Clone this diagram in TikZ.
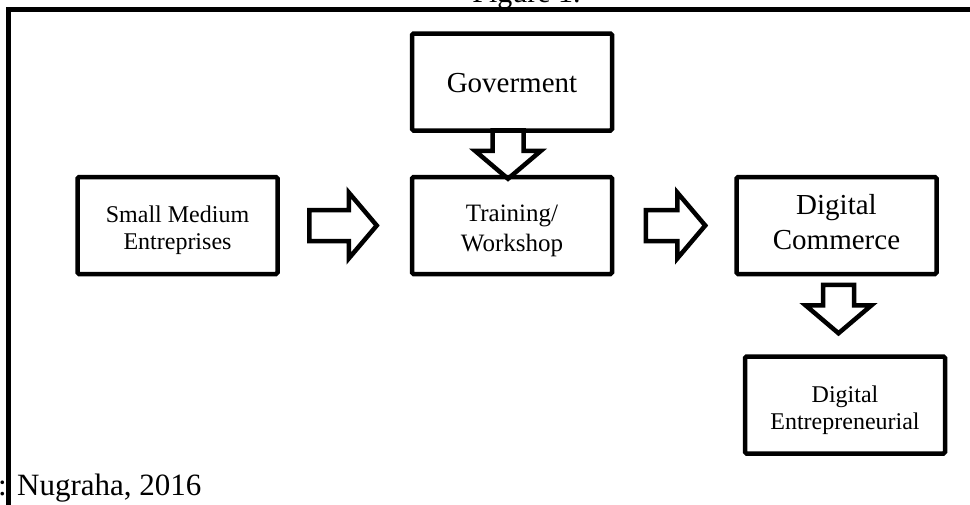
\documentclass[tikz,border=0pt]{standalone}
\usepackage{fontspec}
\setmainfont{Liberation Serif}
\usepackage{tikz}
\usetikzlibrary{positioning,calc}

\begin{document}
\begin{tikzpicture}[
  x=1pt, y=-1pt,
  box/.style={draw, line width=4.5pt, rounded corners=1.5pt,
              minimum width=200pt, minimum height=97pt, align=center,
              font=\fontsize{29}{35}\selectfont},
  smallbox/.style={box, font=\fontsize{24}{27}\selectfont,
                   text height=54pt, text depth=6pt},
  midbox/.style={box, font=\fontsize{25}{30}\selectfont,
                 text height=58pt, text depth=6pt},
  arrline/.style={line width=4.5pt, line join=miter},
  pics/blockarrow/.style={code={
    \draw[arrline] (0,15.5) -- ({#1-28},15.5) -- ({#1-28},33) -- (#1,0)
      -- ({#1-28},-33) -- ({#1-28},-15.5) -- (0,-15.5) -- cycle;}},
  node distance=42pt and 130pt
]
  \useasboundingbox (0,0) rectangle (970,504);
  \clip (0,0) rectangle (970,504);

  \node[font=\fontsize{30}{36}\selectfont, anchor=base] (fig) at (526.5,2) {Figure 1.};
  \draw[line width=5pt] (8,9) rectangle (1000,540);

  \node[smallbox] (sme) at (177.5,225.5) {Small Medium\\Entreprises};
  \node[midbox, right=of sme] (train) {Training/\\Workshop};
  \node[box, above=of train, text height=25pt, text depth=5pt] (gov) {Goverment};
  \node[box, right=120pt of train, text height=54pt, text depth=6pt] (dcom) {Digital\\Commerce};
  \node[smallbox, below=78pt of dcom, xshift=8.5pt] (dent) {Digital\\Entrepreneurial};

  % block arrows
  \pic at ($(sme.east)+(29.5,0)$) {blockarrow=67.5};
  \pic at ($(train.east)+(31.5,0)$) {blockarrow=59.5};
  \pic[rotate=-90] at ($(gov.south)+(-4,-2.5)$) {blockarrow=48.5};
  \pic[rotate=-90] at ($(dcom.south)+(2,8.5)$) {blockarrow=48.5};

  \node[font=\fontsize{31}{36}\selectfont, anchor=base west, inner sep=0pt] (src) at (-2,495) {: Nugraha, 2016};
\end{tikzpicture}
\end{document}
